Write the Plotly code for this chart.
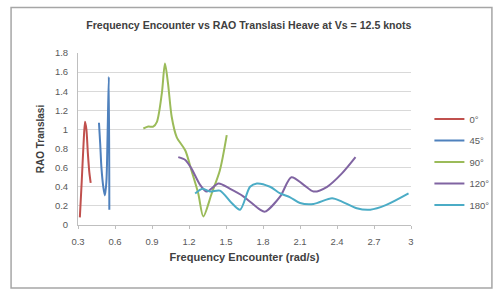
import plotly.graph_objects as go

# ---- data ----
labels = ["0°", "45°", "90°", "120°", "180°"]
colors = ["#C0504D", "#4F81BD", "#9BBB59", "#8064A2", "#4BACC6"]

x0 = [0.315, 0.33, 0.345, 0.357, 0.368, 0.38, 0.392, 0.403]
y0 = [0.08, 0.45, 0.85, 1.08, 1.0, 0.75, 0.55, 0.44]

x45 = [0.47, 0.48, 0.49, 0.505, 0.518, 0.53, 0.54, 0.55, 0.554]
y45 = [1.07, 0.85, 0.6, 0.4, 0.31, 0.45, 0.95, 1.55, 0.16]

x90 = [0.83, 0.87, 0.91, 0.94, 0.98, 1.005, 1.03, 1.06, 1.10, 1.17, 1.22, 1.275, 1.316, 1.384, 1.45, 1.506]
y90 = [1.01, 1.03, 1.03, 1.08, 1.38, 1.69, 1.48, 1.13, 0.92, 0.78, 0.57, 0.33, 0.09, 0.33, 0.57, 0.94]

x120 = [1.113, 1.17, 1.22, 1.29, 1.344, 1.44, 1.53, 1.64, 1.776, 1.816, 1.94, 2.03, 2.13, 2.21, 2.32, 2.44, 2.55]
y120 = [0.71, 0.68, 0.59, 0.42, 0.35, 0.435, 0.38, 0.30, 0.16, 0.14, 0.30, 0.50, 0.42, 0.35, 0.40, 0.54, 0.71]

x180 = [1.25, 1.31, 1.37, 1.45, 1.546, 1.614, 1.695, 1.75, 1.857, 1.94, 2.02, 2.1, 2.21, 2.36, 2.44, 2.56, 2.67, 2.80, 2.98]
y180 = [0.33, 0.38, 0.35, 0.36, 0.23, 0.16, 0.40, 0.435, 0.40, 0.33, 0.29, 0.23, 0.22, 0.28, 0.245, 0.175, 0.16, 0.21, 0.33]

xs = [x0, x45, x90, x120, x180]
ys = [y0, y45, y90, y120, y180]

x_ticks = [0.3, 0.6, 0.9, 1.2, 1.5, 1.8, 2.1, 2.4, 2.7, 3.0]
x_tick_text = ["0.3", "0.6", "0.9", "1.2", "1.5", "1.8", "2.1", "2.4", "2.7", "3"]
y_ticks = [0, 0.2, 0.4, 0.6, 0.8, 1.0, 1.2, 1.4, 1.6, 1.8]
y_tick_text = ["0", "0.2", "0.4", "0.6", "0.8", "1", "1.2", "1.4", "1.6", "1.8"]

fig = go.Figure()
for lab, col, xv, yv in zip(labels, colors, xs, ys):
    fig.add_trace(go.Scatter(x=xv, y=yv, mode="lines", name=lab, legendgroup=lab,
                             line=dict(color=col, width=2, shape="spline", smoothing=0.8)))

FONT = "Liberation Sans"
fig.update_layout(
    width=493, height=290,
    margin=dict(l=78, r=82, t=53, b=65, autoexpand=False),
    paper_bgcolor="white", plot_bgcolor="white",
    font=dict(family=FONT, size=9, color="#595959"),
    title=dict(text="<b>Frequency Encounter vs RAO Translasi Heave at Vs = 12.5 knots</b>",
               x=0.513, xref="paper", xanchor="center", y=0.913, yanchor="middle",
               font=dict(family=FONT, size=10.6, color="#404040")),
    showlegend=True,
    legend=dict(x=0.871, y=0.441, xref="container", yref="container",
                xanchor="left", yanchor="middle",
                font=dict(family=FONT, size=9.5, color="#595959"),
                bgcolor="rgba(0,0,0,0)", tracegroupgap=2.5, itemwidth=30),
    xaxis=dict(range=[0.3, 3.0], tickvals=x_ticks, ticktext=x_tick_text, automargin=False,
               showgrid=False, zeroline=False, showline=True, linecolor="#BFBFBF",
               ticks="outside", ticklen=3, tickcolor="#BFBFBF", ticklabelstandoff=5,
               tickfont=dict(size=9.5, color="#595959"),
               title=dict(text="<b>Frequency Encounter (rad/s)</b>", standoff=6,
                          font=dict(family=FONT, size=11, color="#404040"))),
    yaxis=dict(range=[0, 1.8], tickvals=y_ticks, ticktext=y_tick_text, automargin=False,
               showgrid=True, gridcolor="#D9D9D9", zeroline=False,
               showline=True, linecolor="#BFBFBF", ticks="", ticklabelstandoff=7,
               tickfont=dict(size=9.5, color="#595959"),
               title=dict(text="<b>RAO Translasi</b>", standoff=8,
                          font=dict(family=FONT, size=10, color="#404040"))),
)
fig.add_shape(type="rect", xref="paper", yref="paper",
              x0=-0.201, x1=1.243, y0=-0.366, y1=1.265,
              line=dict(color="#A6A6A6", width=1.5), layer="above")

fig.write_html("out.html", config={"displayModeBar": False},
               post_script="document.body.style.margin='0';")
